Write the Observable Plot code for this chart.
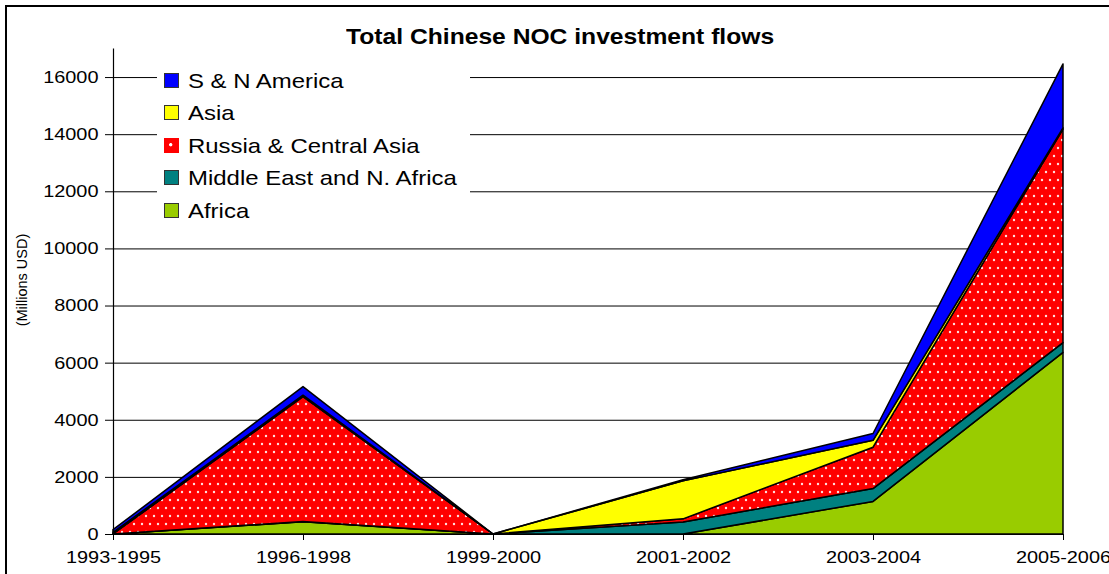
<!DOCTYPE html>
<html>
<head>
<meta charset="utf-8">
<script src="https://cdn.jsdelivr.net/npm/d3@7"></script>
<script src="https://cdn.jsdelivr.net/npm/@observablehq/plot@0.6"></script>
<style>
  html, body { margin: 0; background: #fff; font-family: "Liberation Sans", Arial, sans-serif; overflow: hidden; }
  #wrap { position: relative; width: 1109px; height: 574px; overflow: hidden; background: #fff; }
  #frame { position: absolute; left: 5px; top: 5px; width: 1200px; height: 700px; border: 2px solid #000; box-sizing: border-box; }
  #chart { position: absolute; left: 0; top: 0; }
  #title { position: absolute; left: 0; top: 24px; width: 1120px; text-align: center; font-weight: bold; font-size: 22px; line-height: 26px; }
  #title span { display: inline-block; transform: scaleX(1.12); }
  #ylabel { position: absolute; left: 22px; top: 280px; font-size: 14.5px; white-space: nowrap; transform: translate(-50%, -50%) rotate(-90deg); }
  #legend { position: absolute; left: 157px; top: 62px; width: 313px; height: 166px; background: #fff; }
  .row { position: absolute; left: 0; height: 26px; display: flex; align-items: center; }
  .sw { position: absolute; left: 7px; width: 15px; height: 15px; border: 1px solid #333; box-sizing: border-box; }
  .lt { position: absolute; left: 31px; font-size: 21px; white-space: nowrap; transform: scaleX(1.14); transform-origin: left center; line-height: 26px; }
</style>
</head>
<body>
<div id="wrap">
  <div id="frame"></div>
  <div id="chart"></div>
  <div id="title"><span>Total Chinese NOC investment flows</span></div>
  <div id="ylabel">(Millions USD)</div>
  <div id="legend"></div>
</div>
<script>
const categories = ["1993-1995", "1996-1998", "1999-2000", "2001-2002", "2003-2004", "2005-2006"];
const seriesNames = ["Africa", "Middle East and N. Africa", "Russia & Central Asia", "Asia", "S & N America"];
const africa     = [0,   430,  0, 0,    1140, 6360];
const middleEast = [0,   10,   0, 420,  450,  340];
const russia     = [0,   4370, 0, 110,  1450, 7480];
const asia       = [60,  50,   0, 1330, 240,  40];
const america    = [90,  300,  0, 40,   240,  2240];
const yTicks = [0, 2000, 4000, 6000, 8000, 10000, 12000, 14000, 16000];
const colors = ["#99cc00", "#008080", "url(#dots)", "#ffff00", "#0000ff"];
const legendOrder = ["S & N America", "Asia", "Russia & Central Asia", "Middle East and N. Africa", "Africa"];

const seriesValues = [africa, middleEast, russia, asia, america];
const table = [];
seriesNames.forEach((s, i) => {
  categories.forEach((c, j) => table.push({cat: c, series: s, value: seriesValues[i][j]}));
});

const plot = Plot.plot({
  width: 1109,
  height: 574,
  marginLeft: 112,
  marginRight: 46,
  marginTop: 48.5,
  marginBottom: 40,
  style: {fontFamily: "'Liberation Sans', Arial, sans-serif", fontSize: "17px", color: "#000", background: "transparent"},
  x: {type: "point", domain: categories, padding: 0, label: null},
  y: {domain: [0, 17000], label: null},
  color: {domain: seriesNames, range: colors},
  marks: [
    Plot.gridY(yTicks.filter(d => d > 0), {stroke: "#000", strokeOpacity: 1, strokeWidth: 1}),
    Plot.areaY(table, {x: "cat", y: "value", z: "series", fill: "series", stroke: "#000", strokeWidth: 1.5, order: seriesNames}),
    Plot.ruleY([0], {stroke: "#000", strokeWidth: 1.2}),
    Plot.ruleX([categories[0]], {y1: 0, y2: 17000, stroke: "#000", strokeWidth: 1.2}),
    Plot.axisY({ticks: yTicks, tickSize: 7, tickPadding: 7, tickFormat: d => String(d), label: null, fontSize: 17}),
    Plot.axisX({tickSize: 6, tickPadding: 10, label: null, fontSize: 17})
  ]
});

// dotted pattern for the Russia & Central Asia layer
const ns = "http://www.w3.org/2000/svg";
const defs = document.createElementNS(ns, "defs");
defs.innerHTML = `<pattern id="dots" width="8" height="16" patternUnits="userSpaceOnUse">
  <rect width="8" height="16" fill="#ff0000"/>
  <circle cx="2" cy="4" r="1.2" fill="#ffe0e0"/>
  <circle cx="6" cy="12" r="1.2" fill="#ffe0e0"/>
</pattern>`;
plot.insertBefore(defs, plot.firstChild);

// horizontally stretch tick labels like the reference (keep Plot's own translate)
plot.querySelectorAll('[aria-label="y-axis tick label"] text, [aria-label="x-axis tick label"] text').forEach(t => {
  const tr = t.getAttribute("transform") || "";
  t.setAttribute("transform", tr + " scale(1.17,1)");
});

document.getElementById("chart").appendChild(plot);

// legend
const legend = document.getElementById("legend");
const rowCenters = [18.7, 50.7, 83.7, 115.7, 148.7];
legendOrder.forEach((name, i) => {
  const row = document.createElement("div");
  row.className = "row";
  row.style.top = (rowCenters[i] - 13) + "px";
  const sw = document.createElement("div");
  sw.className = "sw";
  sw.style.top = "5.5px";
  const idx = seriesNames.indexOf(name);
  if (name === "Russia & Central Asia") {
    sw.style.background = "radial-gradient(circle at 45% 45%, #fff 1.3px, transparent 2px), #ff0000";
    sw.style.border = "none";
  } else {
    sw.style.background = colors[idx];
  }
  const lt = document.createElement("div");
  lt.className = "lt";
  lt.textContent = name;
  row.appendChild(sw);
  row.appendChild(lt);
  legend.appendChild(row);
});
</script>
</body>
</html>
